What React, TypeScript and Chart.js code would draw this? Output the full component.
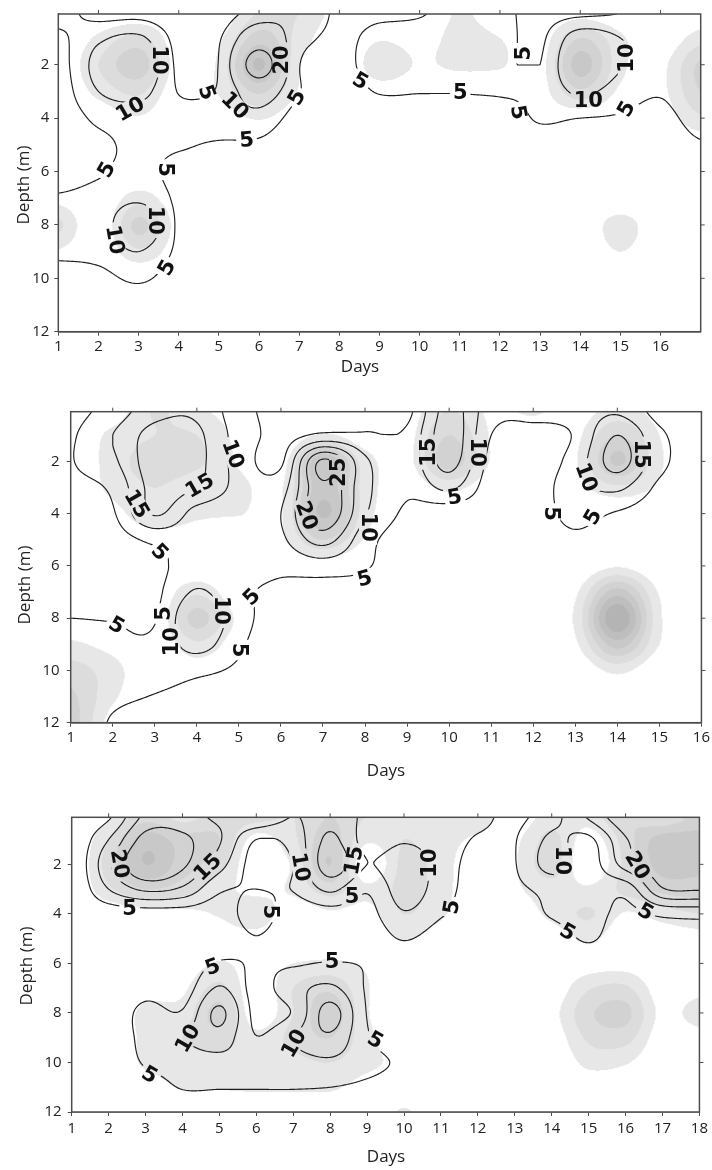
import React, { useEffect, useRef } from "react";
import { Chart, registerables } from "chart.js";

Chart.register(...registerables);

// ---------------- data ----------------
const DEPTHS = [0, 1, 2, 3, 4, 5, 6, 7, 8, 9, 10, 11, 12];
const Y_TICKS = [2, 4, 6, 8, 10, 12];
const RIGHT_TICKS = [2, 4, 6, 8, 10];

// Panel 1
const P1_DAYS = [1, 2, 3, 4, 5, 6, 7, 8, 9, 10, 11, 12, 13, 14, 15, 16, 17];
const P1_X_TICKS = [1, 2, 3, 4, 5, 6, 7, 8, 9, 10, 11, 12, 13, 14, 15, 16];
const P1_TOP_TICKS = [2, 4, 6, 8, 10, 12, 14, 16];
const P1_LEVELS = [5, 10, 20];
// value profiles, one per day, depth 0..12
const P1_VALUES = [
  [7, 4, 3, 2.5, 2, 2, 3, 5.5, 8, 6, 3, 1.5, 1],
  [3, 9, 12, 10, 6, 4, 4.5, 6.5, 7, 6.5, 3.5, 1.5, 1],
  [3, 11, 16, 12, 7, 6, 6.5, 9, 15, 10, 5.8, 2, 1],
  [2, 3.5, 4, 4.8, 6.5, 5.5, 3.5, 4, 4.2, 4, 2.5, 1.5, 1],
  [2.5, 4.6, 5.2, 5.5, 7.5, 4.5, 2.5, 1.5, 1.5, 1.5, 1, 1, 1],
  [7, 15, 24, 14, 8, 4.2, 2, 1.5, 1, 1, 1, 1, 1],
  [9, 7, 5.2, 5.2, 3, 2, 1.5, 1, 1, 1, 1, 1, 1],
  [4, 4, 3.5, 3, 2, 1.5, 1.5, 1, 1, 1, 1, 1, 1],
  [4, 6.5, 7.5, 5.3, 2.5, 2, 1.5, 1, 1, 1, 1, 1, 1],
  [4.5, 7, 7, 5.2, 2.5, 1.5, 1.5, 1, 1, 1, 1, 1, 1],
  [7, 7.5, 6.5, 5.2, 2.5, 1.5, 1.5, 1, 1, 1, 1, 1, 1],
  [6, 6.5, 6, 5.5, 2.5, 1.5, 1, 1, 1, 1, 1, 1, 1],
  [3.5, 4.2, 5, 6, 5.5, 2.5, 1.5, 1, 1, 1, 1, 1, 1],
  [3.5, 13, 16, 11, 5, 2, 1.5, 1, 1, 1, 1, 1, 1],
  [4.8, 10, 10.5, 7.5, 4.5, 2, 1.5, 1, 1, 1, 1, 1, 1],
  [7, 7, 7.5, 5.5, 3.5, 2, 1.5, 1, 1, 1, 1, 1, 1],
  [8, 9, 9.5, 9, 7, 4.5, 2, 1.5, 1, 1, 1, 1, 1],
];
// shading class profiles, one per day
const P1_SHADE = [
  [0, 0, 0, 0, 0, 0, 0, 0.6, 2.2, 0.9, 0, 0, 0],
  [0, 1.2, 2.0, 1.3, 0.3, 0, 0, 0, 0, 0, 0, 0, 0],
  [0, 2.3, 3.6, 2.2, 0.9, 0, 0, 1.5, 3.3, 1.8, 0, 0, 0],
  [0, 0.3, 0.5, 0.3, 0, 0, 0, 0.2, 0.5, 0.3, 0, 0, 0],
  [0, 0.8, 1.2, 1.1, 0.3, 0, 0, 0, 0, 0, 0, 0, 0],
  [2, 3.5, 5.2, 3.2, 1.1, 0, 0, 0, 0, 0, 0, 0, 0],
  [2, 1.6, 1.1, 0.9, 0.2, 0, 0, 0, 0, 0, 0, 0, 0],
  [0.5, 0.2, 0, 0, 0, 0, 0, 0, 0, 0, 0, 0, 0],
  [0, 0.9, 1.6, 0.5, 0, 0, 0, 0, 0, 0, 0, 0, 0],
  [0, 0.6, 0.9, 0.3, 0, 0, 0, 0, 0, 0, 0, 0, 0],
  [1.1, 1.3, 1.2, 0.2, 0, 0, 0, 0, 0, 0, 0, 0, 0],
  [0.3, 1.0, 1.1, 0.2, 0, 0, 0, 0, 0, 0, 0, 0, 0],
  [0, 0.4, 0.6, 0.5, 0.3, 0, 0, 0, 0, 0, 0, 0, 0],
  [0.4, 3, 4.5, 2.8, 0.2, 0, 0, 0, 0, 0, 0, 0, 0],
  [0, 1.2, 1.3, 0.8, 0, 0, 0, 0, 1.5, 1.0, 0, 0, 0],
  [0, 0.2, 0.7, 0.7, 0.3, 0, 0, 0, 0, 0, 0, 0, 0],
  [0.2, 1.5, 3.2, 3.0, 1.8, 0.3, 0, 0, 0, 0, 0, 0, 0],
];
// contour labels: day, depth, text, angle (deg)
const P1_LABELS: [number, number, string, number][] = [
  [3.53, 1.82, "10", 90],
  [2.79, 3.66, "10", -30],
  [4.7, 3.04, "5", 70],
  [5.4, 3.53, "10", 45],
  [6.56, 1.82, "20", -90],
  [6.94, 3.23, "5", -60],
  [5.69, 4.82, "5", -5],
  [2.2, 5.93, "5", -60],
  [3.66, 5.93, "5", 90],
  [3.41, 7.83, "10", 90],
  [2.41, 8.56, "10", 80],
  [3.7, 9.6, "5", -60],
  [8.52, 2.61, "5", 30],
  [11.01, 3.04, "5", 0],
  [12.46, 3.78, "5", 80],
  [12.59, 1.57, "5", -90],
  [15.16, 1.75, "10", -90],
  [14.2, 3.35, "10", 0],
  [15.15, 3.66, "5", -60],
];

// Panel 2
const P2_DAYS = [1, 2, 3, 4, 5, 6, 7, 8, 9, 10, 11, 12, 13, 14, 15, 16];
const P2_X_TICKS = [1, 2, 3, 4, 5, 6, 7, 8, 9, 10, 11, 12, 13, 14, 15, 16];
const P2_TOP_TICKS = [2, 4, 6, 8, 10, 12, 14];
const P2_LEVELS = [5, 10, 15, 20, 25];
const P2_VALUES = [
  [3.5, 4.5, 4.8, 4, 3, 2.5, 2.5, 3.5, 5, 6.5, 7.5, 8.5, 9],
  [7, 10, 9, 6, 4.5, 3, 2.5, 3, 4.8, 6, 6.5, 6, 4.5],
  [13, 17, 18, 17, 15.5, 6, 4, 4, 4.7, 6, 6.5, 4.8, 3],
  [14, 16, 16.5, 15, 8, 6.5, 7, 10.5, 14.5, 12, 6, 3.5, 2],
  [7, 8, 8, 8.5, 7, 6, 6.5, 6, 7, 5.8, 4.2, 2.5, 1.5],
  [3, 3.5, 4.2, 8, 10, 9, 6, 4, 2.5, 2, 1.5, 1, 1],
  [2, 6, 26, 24, 24, 17, 7.5, 3, 2, 1.5, 1, 1, 1],
  [3, 5.5, 11, 11.5, 10.5, 7, 5.5, 3, 2, 1.5, 1, 1, 1],
  [3.5, 6, 7, 6, 4, 2.5, 2, 1.5, 1.5, 1.5, 1, 1, 1],
  [17, 18, 17, 11, 2, 2, 1.5, 1.5, 1, 1, 1, 1, 1],
  [7, 5, 3.5, 2.5, 2, 1.5, 1, 1, 1, 1, 1, 1, 1],
  [6.5, 3.5, 2.5, 2.5, 2.5, 2, 1.5, 1, 1, 1, 1, 1, 1],
  [7, 5.5, 7, 8, 6.5, 4, 2, 1.5, 1, 1, 1, 1, 1],
  [9, 15, 17, 11, 4.5, 2, 1.5, 2.5, 3, 2.5, 1.5, 1, 1],
  [3, 6, 6.5, 4, 2, 1.5, 1, 1.5, 2, 1.5, 1, 1, 1],
  [2, 2.5, 2.5, 2, 1.5, 1, 1, 1, 1, 1, 1, 1, 1],
];
const P2_SHADE = [
  [0, 0, 0, 0, 0, 0, 0, 0, 0.2, 1.2, 2.5, 3.2, 3.5],
  [0.3, 1.3, 1.5, 1.3, 0.6, 0, 0, 0, 0, 0.6, 1.4, 1.2, 0.5],
  [2.1, 2, 2.5, 2, 1.8, 0.4, 0, 0, 0, 0, 0, 0, 0],
  [1.2, 2, 2.2, 1.4, 1.2, 0.3, 0, 1.8, 3.4, 1.8, 0.4, 0, 0],
  [0.5, 0.7, 0.9, 1.2, 1.05, 0.2, 0, 0, 0.7, 0.3, 0, 0, 0],
  [0, 0, 0.5, 0.9, 0.9, 0.8, 0, 0, 0, 0, 0, 0, 0],
  [0, 1.2, 4.8, 4.6, 5.2, 3, 0.3, 0, 0, 0, 0, 0, 0],
  [0, 0.3, 1.5, 1.6, 1.5, 0.9, 0, 0, 0, 0, 0, 0, 0],
  [0.4, 0.6, 0.7, 0.3, 0, 0, 0, 0, 0, 0, 0, 0, 0],
  [2, 3, 3.6, 1.3, 0, 0, 0, 0, 0, 0, 0, 0, 0],
  [0.8, 0.9, 0.9, 0.3, 0, 0, 0, 0, 0, 0, 0, 0, 0],
  [1.2, 0.2, 0, 0, 0, 0, 0, 0, 0, 0, 0, 0, 0],
  [0.5, 0.7, 0.9, 0.6, 0, 0, 0, 0.8, 1.2, 0.8, 0, 0, 0],
  [1.3, 3, 4.2, 1.8, 0, 0, 0.9, 4.5, 7, 4.5, 1.3, 0, 0],
  [0.6, 1.0, 1.2, 0.8, 0, 0, 0, 0.9, 1.2, 1.0, 0, 0, 0],
  [0, 0, 0, 0, 0, 0, 0, 0, 0, 0, 0, 0, 0],
];
const P2_LABELS: [number, number, string, number][] = [
  [4.86, 1.72, "10", 70],
  [4.07, 2.93, "15", -30],
  [2.57, 3.63, "15", 60],
  [3.12, 5.47, "5", 45],
  [3.2, 7.82, "5", -90],
  [2.09, 8.27, "5", 30],
  [4.59, 7.7, "10", 90],
  [3.4, 8.9, "10", -90],
  [5.02, 9.22, "5", 90],
  [5.3, 7.19, "5", -45],
  [7.36, 2.42, "25", -90],
  [6.61, 4.07, "20", 70],
  [8.07, 4.52, "10", 90],
  [7.99, 6.49, "5", -15],
  [10.13, 3.37, "5", -10],
  [9.5, 1.65, "15", -90],
  [10.68, 1.65, "10", 90],
  [14.57, 1.72, "15", 90],
  [13.26, 2.61, "10", 70],
  [12.43, 4.0, "5", 90],
  [13.42, 4.13, "5", -60],
];

// Panel 3
const P3_DAYS = [1, 2, 3, 4, 5, 6, 7, 8, 9, 10, 11, 12, 13, 14, 15, 16, 17, 18];
const P3_X_TICKS = [1, 2, 3, 4, 5, 6, 7, 8, 9, 10, 11, 12, 13, 14, 15, 16, 17, 18];
const P3_TOP_TICKS = [2, 4, 6, 8, 10, 12, 14, 16];
const P3_LEVELS = [5, 10, 15, 20];
const P3_VALUES = [
  [1, 1, 0.5, 0.5, 0.5, 0.5, 0.5, 0.5, 0.5, 0.5, 0.5, 0.5, 0.5],
  [4, 10, 14, 10, 2, 1, 0.5, 0.5, 1, 1.5, 1, 0.5, 0.5],
  [16, 22, 25, 16, 2.5, 1.5, 1, 3, 6.5, 6.5, 5.5, 2.5, 1],
  [17, 21, 21, 14, 2.5, 1.5, 1.5, 2.5, 5.5, 9.5, 7, 5.3, 1.5],
  [14, 15.5, 12, 5.8, 2.5, 2, 5.5, 10.5, 16, 13, 8, 5.3, 1.5],
  [15.5, 5, 3, 5, 7, 4.8, 4.5, 3.5, 3.5, 5.2, 8, 5.3, 1.5],
  [10, 7, 5.1, 5.2, 2.5, 2, 4.5, 8, 5.5, 10, 8, 5.3, 1.5],
  [13, 16, 18, 11, 3, 2, 5.3, 11, 17, 14, 9, 5, 1.5],
  [9, 8, 10, 5.6, 3.2, 2, 4.5, 4.5, 4.8, 5.5, 6.5, 4, 1.5],
  [8, 9.5, 13, 12.5, 9.5, 5.3, 2, 1.5, 1.5, 2, 4, 2.5, 1.5],
  [9, 8, 8, 7.5, 5.5, 2.5, 1.5, 1, 1, 1, 1, 1, 1],
  [6.5, 4.5, 3, 2.5, 2, 1.5, 1, 1, 1, 1, 1, 1, 1],
  [4, 4.8, 4.8, 4, 2, 1.5, 1, 1, 1, 1, 1, 1, 1],
  [8, 11, 12, 6.5, 5.5, 2.5, 1.5, 1, 1, 1, 1, 1, 1],
  [16, 9, 8, 8, 7, 5.5, 2, 2, 2.5, 2, 1.5, 1, 1],
  [24, 19.5, 17, 7, 3.5, 2, 1.5, 2, 3, 2, 1.5, 1, 1],
  [25, 26, 24, 19.5, 6, 2.5, 1.5, 1.5, 2, 1.5, 1, 1, 1],
  [22, 25, 25, 20.5, 6.5, 3, 1.5, 2, 3, 2, 1, 1, 1],
];
const P3_SHADE = [
  [0, 0, 0, 0, 0, 0, 0, 0, 0, 0, 0, 0, 0],
  [0.8, 2, 2.5, 1.8, 0.2, 0, 0, 0, 0, 0, 0, 0, 0],
  [2.5, 4.5, 5, 3, 0.6, 0, 0, 0.5, 1.3, 1.3, 1.2, 0.4, 0],
  [1.5, 3.5, 3.5, 2.5, 0.7, 0, 0.3, 0.8, 1.4, 2, 1.5, 1.1, 0],
  [2.5, 3, 2.4, 1.4, 1.1, 0.4, 1.1, 2.3, 3.3, 2.6, 1.6, 1.1, 0],
  [2.5, 0.6, 0, 0.7, 1.6, 0.6, 0.5, 0.2, 0.3, 1.3, 1.5, 1.2, 0],
  [2, 1.8, 1.2, 1.2, 0.3, 0, 1, 2, 2, 2.3, 1.7, 1.2, 0],
  [3, 3.5, 4, 2.5, 0.8, 0.2, 1.2, 2.8, 3.6, 3, 2, 1.2, 0],
  [2, 1.2, 0, 1.2, 0.6, 0, 0.8, 1.1, 1.1, 1.3, 1.3, 0.5, 0],
  [2, 2, 2.3, 2.3, 2, 1.1, 0, 0, 0, 0.2, 0.6, 0.3, 1.1],
  [1.8, 1.5, 1.5, 1.5, 1.2, 0.3, 0, 0, 0, 0, 0, 0, 0],
  [1.6, 0.8, 0.2, 0, 0, 0, 0, 0, 0, 0, 0, 0, 0],
  [0.3, 0.8, 0.9, 0.8, 0.2, 0, 0, 0, 0, 0, 0, 0, 0],
  [1.5, 2.3, 2.5, 1.6, 1.3, 0.3, 0, 0.2, 0.6, 0.3, 0, 0, 0],
  [1.5, 0.5, 0, 1.2, 2.1, 1.2, 0.5, 1.9, 2.8, 2.2, 1.3, 0.3, 0],
  [3, 2.5, 2.3, 2.3, 0.9, 0.2, 0.5, 2.2, 3.3, 2.4, 1.1, 0.2, 0],
  [1.8, 4.5, 4.5, 3.3, 1.5, 0.3, 0, 0.3, 0.7, 0.3, 0, 0, 0],
  [3.5, 4.3, 4.3, 3.5, 2, 0.5, 0, 0.6, 1.5, 0.5, 0, 0, 0],
];
const P3_LABELS: [number, number, string, number][] = [
  [2.3, 1.98, "20", 80],
  [4.68, 2.11, "15", -45],
  [2.57, 3.79, "5", 0],
  [6.39, 3.92, "5", 90],
  [7.2, 2.11, "10", 80],
  [8.64, 1.84, "15", -80],
  [8.59, 3.32, "5", 0],
  [10.7, 1.95, "10", -90],
  [11.29, 3.72, "5", -80],
  [14.3, 1.84, "10", 90],
  [16.32, 2.04, "20", 60],
  [16.54, 3.92, "5", 30],
  [14.43, 4.73, "5", 30],
  [4.82, 6.14, "5", -20],
  [8.05, 5.94, "5", 0],
  [4.14, 9.03, "10", -60],
  [7.02, 9.23, "10", -60],
  [9.22, 9.1, "5", 30],
  [3.11, 10.5, "5", 30],
];

// ---------------- styles ----------------
const SHADE_COLORS = ["#e7e7e7", "#dcdcdc", "#d2d2d2", "#c8c8c8", "#bebebe", "#b4b4b4", "#aaaaaa", "#a0a0a0"];
const AXIS_COLOR = "#4d4d4d";
const TEXT_COLOR = "#222222";
const LINE_COLOR = "#1f1f1f";
const FONT_FAMILY = "'Open Sans', 'Noto Sans', sans-serif";
const LABEL_FONT = "bold 21px 'DejaVu Sans', sans-serif";
const TITLE_FONT = "17px 'Open Sans', 'Noto Sans', sans-serif";

type PanelSpec = {
  top: number;
  height: number;
  area: { l: number; r: number; t: number; b: number };
  xMax: number;
  days: number[];
  values: number[][];
  shade: number[][];
  levels: number[];
  labels: [number, number, string, number][];
  xTicks: number[];
  topTicks: number[];
  xPad: number;
  yPad: number;
  daysTitle: [number, number];
  depthTitle: [number, number];
};

const PANELS: PanelSpec[] = [
  {
    top: 0, height: 380, area: { l: 58.3, r: 700.7, t: 8.3, b: 331.7 }, xMax: 17,
    days: P1_DAYS, values: P1_VALUES, shade: P1_SHADE, levels: P1_LEVELS, labels: P1_LABELS,
    xTicks: P1_X_TICKS, topTicks: P1_TOP_TICKS, xPad: 2, yPad: 5,
    daysTitle: [360, 367], depthTitle: [24, 185],
  },
  {
    top: 380, height: 410, area: { l: 70.7, r: 702.3, t: 31.7, b: 342.7 }, xMax: 16,
    days: P2_DAYS, values: P2_VALUES, shade: P2_SHADE, levels: P2_LEVELS, labels: P2_LABELS,
    xTicks: P2_X_TICKS, topTicks: P2_TOP_TICKS, xPad: 2, yPad: 7,
    daysTitle: [386, 391], depthTitle: [25, 205],
  },
  {
    top: 790, height: 380, area: { l: 71.7, r: 702.3, t: 27.3, b: 322 }, xMax: 18,
    days: P3_DAYS, values: P3_VALUES, shade: P3_SHADE, levels: P3_LEVELS, labels: P3_LABELS,
    xTicks: P3_X_TICKS, topTicks: P3_TOP_TICKS, xPad: 4, yPad: 6,
    daysTitle: [386, 367], depthTitle: [26.7, 176],
  },
];

// ---------------- helpers ----------------
function cr(p0: number, p1: number, p2: number, p3: number, t: number) {
  return p1 + 0.5 * t * (p2 - p0 + t * (2 * p0 - 5 * p1 + 4 * p2 - p3 + t * (3 * (p1 - p2) + p3 - p0)));
}

function makeSampler(days: number[], depths: number[], grid: number[][]) {
  const nx = days.length;
  const ny = depths.length;
  const d0 = days[0];
  const dd = days[1] - days[0];
  const z0 = depths[0];
  const dz = depths[1] - depths[0];
  const g = (i: number, j: number) =>
    grid[Math.max(0, Math.min(nx - 1, i))][Math.max(0, Math.min(ny - 1, j))];
  return (day: number, depth: number) => {
    const gx = Math.max(0, Math.min(nx - 1, (day - d0) / dd));
    const gy = Math.max(0, Math.min(ny - 1, (depth - z0) / dz));
    let i = Math.floor(gx);
    let j = Math.floor(gy);
    if (i > nx - 2) i = nx - 2;
    if (j > ny - 2) j = ny - 2;
    const tx = gx - i;
    const ty = gy - j;
    const c0 = cr(g(i - 1, j - 1), g(i - 1, j), g(i - 1, j + 1), g(i - 1, j + 2), ty);
    const c1 = cr(g(i, j - 1), g(i, j), g(i, j + 1), g(i, j + 2), ty);
    const c2 = cr(g(i + 1, j - 1), g(i + 1, j), g(i + 1, j + 1), g(i + 1, j + 2), ty);
    const c3 = cr(g(i + 2, j - 1), g(i + 2, j), g(i + 2, j + 1), g(i + 2, j + 2), ty);
    const v = cr(c0, c1, c2, c3, tx);
    const a = g(i, j), b = g(i + 1, j), c = g(i, j + 1), e = g(i + 1, j + 1);
    const lo = Math.min(a, b, c, e);
    const hi = Math.max(a, b, c, e);
    return Math.max(lo, Math.min(hi, v));
  };
}

function hexToRgb(h: string) {
  const n = parseInt(h.slice(1), 16);
  return [(n >> 16) & 255, (n >> 8) & 255, n & 255];
}

function makePanelPlugin(p: PanelSpec) {
  const shadeAt = makeSampler(p.days, DEPTHS, p.shade);
  const valueAt = makeSampler(p.days, DEPTHS, p.values);
  const rgb = SHADE_COLORS.map(hexToRgb);
  return {
    id: "contourPanel",
    beforeDatasetsDraw(chart: any) {
      const { ctx, chartArea: a, scales } = chart;
      const xs = scales.x;
      const ys = scales.y;
      const aw = a.right - a.left;
      const ah = a.bottom - a.top;
      // ---- shading raster
      const W = Math.ceil(aw);
      const H = Math.ceil(ah);
      const off = document.createElement("canvas");
      off.width = W;
      off.height = H;
      const octx = off.getContext("2d")!;
      const img = octx.createImageData(W, H);
      const dayOf = new Float64Array(W);
      for (let px = 0; px < W; px++) dayOf[px] = xs.getValueForPixel(a.left + ((px + 0.5) * aw) / W);
      for (let py = 0; py < H; py++) {
        const depth = ys.getValueForPixel(a.top + ((py + 0.5) * ah) / H);
        for (let px = 0; px < W; px++) {
          const s = shadeAt(dayOf[px], depth);
          const lvl = Math.floor(s);
          const k = (py * W + px) * 4;
          if (lvl >= 1) {
            const c = rgb[Math.min(lvl - 1, rgb.length - 1)];
            img.data[k] = c[0];
            img.data[k + 1] = c[1];
            img.data[k + 2] = c[2];
          } else {
            img.data[k] = 255;
            img.data[k + 1] = 255;
            img.data[k + 2] = 255;
          }
          img.data[k + 3] = 255;
        }
      }
      octx.putImageData(img, 0, 0);
      ctx.drawImage(off, a.left, a.top, aw, ah);

      // ---- contour field
      const nx = Math.round(aw / 1.5) + 1;
      const ny = Math.round(ah / 1.5) + 1;
      const sx = aw / (nx - 1);
      const sy = ah / (ny - 1);
      const f = new Float64Array(nx * ny);
      const dcol = new Float64Array(nx);
      for (let i = 0; i < nx; i++) dcol[i] = xs.getValueForPixel(a.left + i * sx);
      for (let j = 0; j < ny; j++) {
        const depth = ys.getValueForPixel(a.top + j * sy);
        for (let i = 0; i < nx; i++) f[j * nx + i] = valueAt(dcol[i], depth);
      }

      ctx.save();
      ctx.font = LABEL_FONT;
      ctx.beginPath();
      ctx.rect(a.left, a.top, aw, ah);
      for (const [d, z, t, ang] of p.labels) {
        const cx = xs.getPixelForValue(d);
        const cy = ys.getPixelForValue(z);
        const w = ctx.measureText(t).width + 6;
        const h = 18;
        const r = (ang * Math.PI) / 180;
        const c = Math.cos(r);
        const s = Math.sin(r);
        const pts = [
          [-w / 2, -h / 2],
          [w / 2, -h / 2],
          [w / 2, h / 2],
          [-w / 2, h / 2],
        ].map(([u, v]) => [cx + u * c - v * s, cy + u * s + v * c]);
        ctx.moveTo(pts[0][0], pts[0][1]);
        ctx.lineTo(pts[1][0], pts[1][1]);
        ctx.lineTo(pts[2][0], pts[2][1]);
        ctx.lineTo(pts[3][0], pts[3][1]);
        ctx.closePath();
      }
      ctx.clip("evenodd");

      ctx.beginPath();
      const X = (i: number) => a.left + i * sx;
      const Y = (j: number) => a.top + j * sy;
      for (const L of p.levels) {
        for (let j = 0; j < ny - 1; j++) {
          for (let i = 0; i < nx - 1; i++) {
            const v0 = f[j * nx + i];
            const v1 = f[j * nx + i + 1];
            const v2 = f[(j + 1) * nx + i + 1];
            const v3 = f[(j + 1) * nx + i];
            const idx = (v0 >= L ? 8 : 0) | (v1 >= L ? 4 : 0) | (v2 >= L ? 2 : 0) | (v3 >= L ? 1 : 0);
            if (idx === 0 || idx === 15) continue;
            const T = () => [X(i + (L - v0) / (v1 - v0)), Y(j)];
            const R = () => [X(i + 1), Y(j + (L - v1) / (v2 - v1))];
            const B = () => [X(i + (L - v3) / (v2 - v3)), Y(j + 1)];
            const Lf = () => [X(i), Y(j + (L - v0) / (v3 - v0))];
            const seg = (p1: number[], p2: number[]) => {
              ctx.moveTo(p1[0], p1[1]);
              ctx.lineTo(p2[0], p2[1]);
            };
            const center = (v0 + v1 + v2 + v3) / 4 >= L;
            switch (idx) {
              case 1: case 14: seg(Lf(), B()); break;
              case 2: case 13: seg(B(), R()); break;
              case 3: case 12: seg(Lf(), R()); break;
              case 4: case 11: seg(T(), R()); break;
              case 6: case 9: seg(T(), B()); break;
              case 7: case 8: seg(T(), Lf()); break;
              case 5:
                if (center) { seg(T(), Lf()); seg(B(), R()); } else { seg(T(), R()); seg(Lf(), B()); }
                break;
              case 10:
                if (center) { seg(T(), R()); seg(Lf(), B()); } else { seg(T(), Lf()); seg(B(), R()); }
                break;
            }
          }
        }
      }
      ctx.strokeStyle = LINE_COLOR;
      ctx.lineWidth = 1.15;
      ctx.lineCap = "round";
      ctx.lineJoin = "round";
      ctx.stroke();
      ctx.restore();

      // ---- labels
      ctx.save();
      ctx.font = LABEL_FONT;
      ctx.fillStyle = "#111111";
      ctx.textAlign = "center";
      ctx.textBaseline = "middle";
      for (const [d, z, t, ang] of p.labels) {
        ctx.save();
        ctx.translate(xs.getPixelForValue(d), ys.getPixelForValue(z));
        ctx.rotate((ang * Math.PI) / 180);
        ctx.fillText(t, 0, 1);
        ctx.restore();
      }
      ctx.restore();
    },
    afterDraw(chart: any) {
      const { ctx, chartArea: a, scales } = chart;
      const xs = scales.x;
      const ys = scales.y;
      ctx.save();
      ctx.strokeStyle = AXIS_COLOR;
      ctx.lineWidth = 1.5;
      ctx.strokeRect(a.left, a.top, a.right - a.left, a.bottom - a.top);
      ctx.lineWidth = 1;
      ctx.beginPath();
      for (const d of p.topTicks) {
        const x = xs.getPixelForValue(d);
        ctx.moveTo(x, a.top);
        ctx.lineTo(x, a.top - 4);
      }
      for (const z of RIGHT_TICKS) {
        const y = ys.getPixelForValue(z);
        ctx.moveTo(a.right, y);
        ctx.lineTo(a.right + 4, y);
      }
      ctx.stroke();
      ctx.fillStyle = TEXT_COLOR;
      ctx.font = TITLE_FONT;
      ctx.textAlign = "center";
      ctx.textBaseline = "middle";
      ctx.fillText("Days", p.daysTitle[0], p.daysTitle[1]);
      ctx.save();
      ctx.translate(p.depthTitle[0], p.depthTitle[1]);
      ctx.rotate(-Math.PI / 2);
      ctx.fillText("Depth (m)", 0, 0);
      ctx.restore();
      ctx.restore();
    },
  };
}

function Panel({ spec }: { spec: PanelSpec }) {
  const ref = useRef<HTMLCanvasElement>(null);
  useEffect(() => {
    const canvas = ref.current;
    if (!canvas) return;
    const p = spec;
    const chart = new Chart(canvas, {
      type: "scatter",
      data: { datasets: [{ data: [], pointRadius: 0 }] },
      plugins: [makePanelPlugin(p)],
      options: {
        animation: false,
        responsive: false,
        devicePixelRatio: 1,
        layout: { padding: { left: 0, top: p.area.t, right: 712 - p.area.r, bottom: 0 } },
        plugins: { legend: { display: false }, tooltip: { enabled: false } },
        scales: {
          x: {
            type: "linear",
            min: 1,
            max: p.xMax,
            afterBuildTicks: (s: any) => {
              s.ticks = p.xTicks.map((v) => ({ value: v }));
            },
            afterFit: (s: any) => {
              s.height = p.height - p.area.b;
            },
            grid: { display: true, drawOnChartArea: false, drawTicks: true, tickLength: 4, color: AXIS_COLOR, lineWidth: 1 },
            border: { display: true, color: AXIS_COLOR, width: 1.5 },
            ticks: { color: TEXT_COLOR, font: { family: FONT_FAMILY, size: 15 }, padding: p.xPad, maxRotation: 0, autoSkip: false },
            title: { display: false },
          },
          y: {
            type: "linear",
            reverse: true,
            min: 0.1,
            max: 12,
            afterBuildTicks: (s: any) => {
              s.ticks = Y_TICKS.map((v) => ({ value: v }));
            },
            afterFit: (s: any) => {
              s.width = p.area.l;
            },
            grid: { display: true, drawOnChartArea: false, drawTicks: true, tickLength: 4, color: AXIS_COLOR, lineWidth: 1 },
            border: { display: true, color: AXIS_COLOR, width: 1.5 },
            ticks: { color: TEXT_COLOR, font: { family: FONT_FAMILY, size: 15 }, padding: p.yPad, autoSkip: false },
            title: { display: false },
          },
        },
      } as any,
    });
    return () => chart.destroy();
  }, [spec]);
  return (
    <div style={{ position: "absolute", left: 0, top: spec.top, width: 712, height: spec.height }}>
      <canvas ref={ref} width={712} height={spec.height} style={{ display: "block", width: 712, height: spec.height }} />
    </div>
  );
}

export default function App() {
  return (
    <div style={{ position: "absolute", left: 0, top: 0, width: 712, height: 1170, background: "#ffffff", overflow: "hidden" }}>
      {PANELS.map((p, i) => (
        <Panel key={i} spec={p} />
      ))}
    </div>
  );
}
